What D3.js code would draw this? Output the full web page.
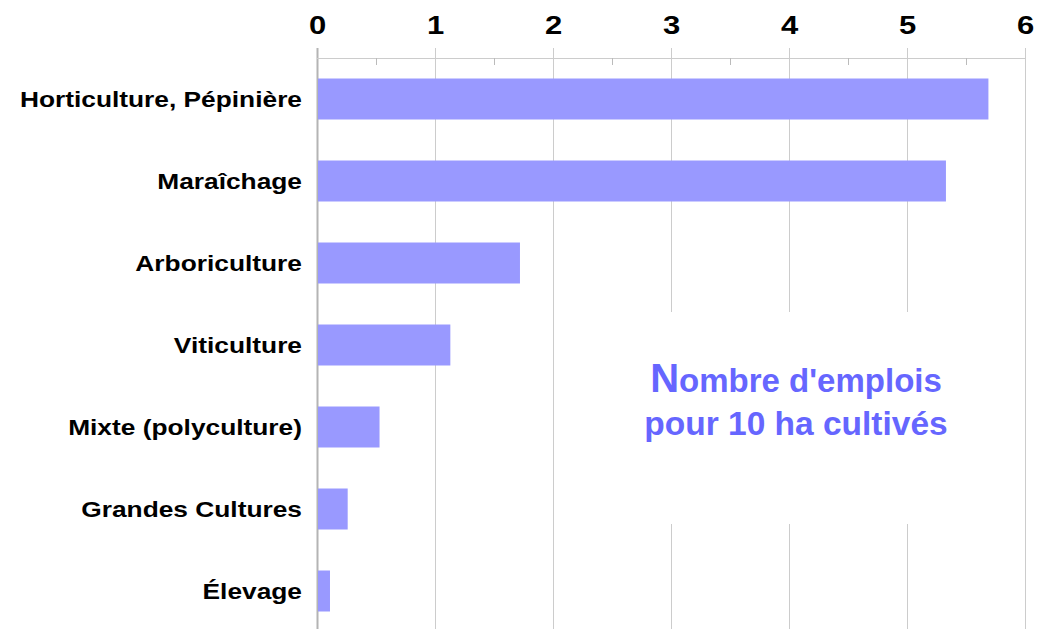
<!DOCTYPE html>
<html>
<head>
<meta charset="utf-8">
<script src="https://cdn.jsdelivr.net/npm/d3@7"></script>
<style>
  body { margin: 0; background: #fff; }
  svg { display: block; font-family: "Liberation Sans", Arial, sans-serif; }
</style>
</head>
<body>
<script>
const WIDTH = 1046;
const HEIGHT = 629;

// data
const categories = ["Horticulture, Pépinière", "Maraîchage", "Arboriculture",
  "Viticulture", "Mixte (polyculture)", "Grandes Cultures", "Élevage"];
const emplois = [5.69, 5.33, 1.72, 1.13, 0.53, 0.26, 0.11];
const majorTicks = [0, 1, 2, 3, 4, 5, 6];
const minorTicks = [0.5, 1.5, 2.5, 3.5, 4.5, 5.5];

const AXIS_Y = 58;

var svg = d3.select("body").append("svg")
    .attr("width", WIDTH)
    .attr("height", HEIGHT);

var xScale = d3.scaleLinear()
    .domain([0, 6])
    .range([317, 1025]);

var yScale = d3.scaleBand()
    .domain(categories)
    .range([AXIS_Y, AXIS_Y + 574])
    .paddingInner(0.5)
    .paddingOuter(0.25);

// vertical grid lines
svg.append("g")
    .selectAll("line")
    .data(majorTicks)
    .join("line")
        .attr("x1", d => xScale(d) + 0.5)
        .attr("x2", d => xScale(d) + 0.5)
        .attr("y1", AXIS_Y - 10)
        .attr("y2", HEIGHT)
        .attr("stroke", d => d === 0 ? "#b4b4b4" : "#cccccc")
        .attr("stroke-width", d => d === 0 ? 2 : 1);

// top axis line + tick labels
var xAxis = d3.axisTop(xScale)
    .tickValues(majorTicks)
    .tickSize(10)
    .tickPadding(15)
    .tickFormat(d3.format("d"));

var gx = svg.append("g")
    .attr("transform", "translate(0," + (AXIS_Y + 0.5) + ")")
    .call(xAxis);

gx.select(".domain").attr("stroke", "#cccccc").attr("d",
    "M" + xScale(0) + ",0H" + xScale(6));
gx.selectAll(".tick line").attr("stroke", "none");
gx.selectAll(".tick text")
    .attr("fill", "#000")
    .attr("font-size", 26.5)
    .attr("font-weight", "bold")
    .attr("font-family", "'Liberation Sans', Arial, sans-serif")
    .attr("transform", "scale(1.17,1)");

// minor ticks
var minorAxis = d3.axisBottom(xScale)
    .tickValues(minorTicks)
    .tickSize(7)
    .tickFormat("");

var gm = svg.append("g")
    .attr("transform", "translate(0," + AXIS_Y + ")")
    .call(minorAxis);
gm.select(".domain").remove();
gm.selectAll(".tick line").attr("stroke", "#bbbbbb");

// bars
svg.append("g")
    .selectAll("rect")
    .data(emplois)
    .join("rect")
        .attr("x", xScale(0) + 1)
        .attr("y", (d, i) => yScale(categories[i]))
        .attr("width", d => xScale(d) - xScale(0) - 1)
        .attr("height", yScale.bandwidth())
        .attr("fill", "#9999ff");

// category labels (stretched sideways like the original)
var yAxis = d3.axisLeft(yScale)
    .tickSize(0)
    .tickPadding(0);

var gy = svg.append("g")
    .attr("transform", "translate(" + xScale(0) + ",0)")
    .call(yAxis);
gy.select(".domain").remove();
gy.selectAll(".tick text")
    .attr("x", 0)
    .attr("dy", "0.36em")
    .attr("fill", "#000")
    .attr("font-size", 22.5)
    .attr("font-weight", "bold")
    .attr("font-family", "'Liberation Sans', Arial, sans-serif")
    .attr("transform", "translate(-15,0) scale(1.17,1)");

// annotation box
svg.append("rect")
    .attr("x", 590)
    .attr("y", 312)
    .attr("width", 395)
    .attr("height", 212)
    .attr("fill", "#fff");

var note = svg.append("text")
    .attr("x", 796)
    .attr("y", 392)
    .attr("text-anchor", "middle")
    .attr("fill", "#6666ff")
    .attr("font-weight", "bold")
    .attr("font-size", 33);

note.append("tspan").attr("font-size", 40).text("N");
note.append("tspan").text("ombre d'emplois");

svg.append("text")
    .attr("x", 796)
    .attr("y", 435)
    .attr("text-anchor", "middle")
    .attr("fill", "#6666ff")
    .attr("font-weight", "bold")
    .attr("font-size", 33.5)
    .text("pour 10 ha cultivés");
</script>
</body>
</html>
